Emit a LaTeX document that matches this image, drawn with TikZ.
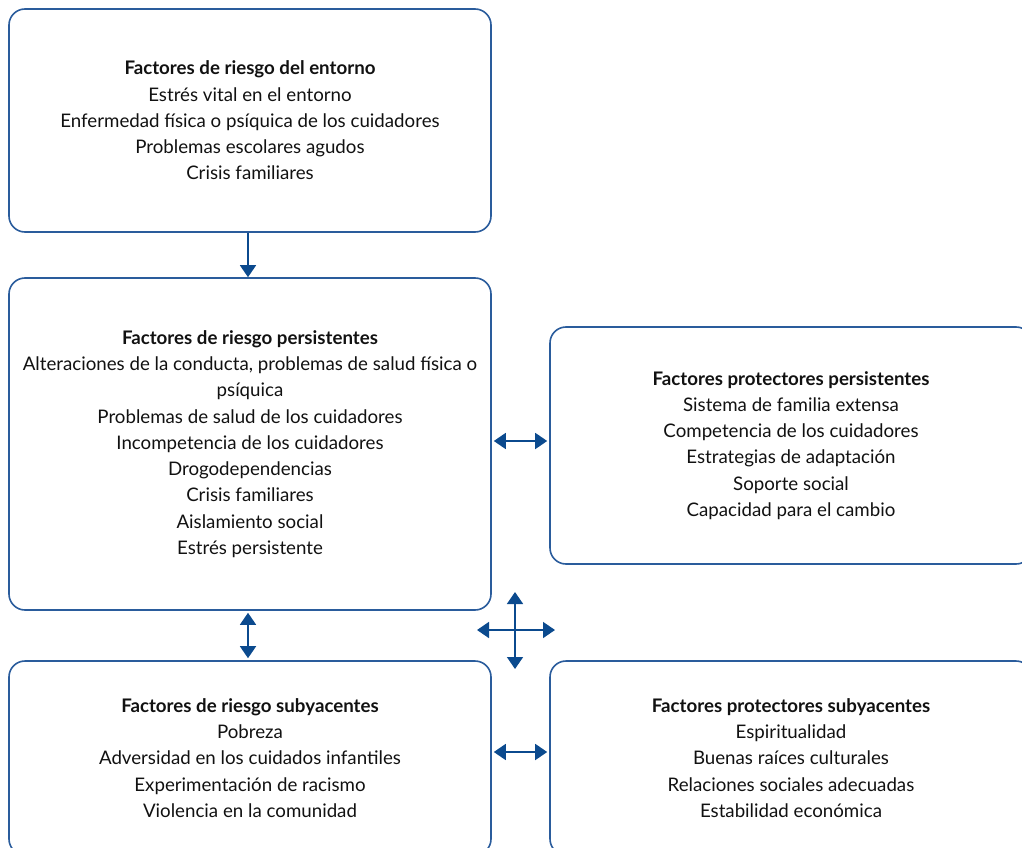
\documentclass[tikz,border=0pt]{standalone}
\usepackage{fontspec}
\setmainfont{Lato}
\usetikzlibrary{arrows.meta,calc}
\definecolor{boxblue}{HTML}{2A5C9C}
\definecolor{tipblue}{HTML}{0B4A8E}
\definecolor{txt}{HTML}{111111}
\tikzset{
  fbox/.style={draw=boxblue, line width=1.6pt, rounded corners=16pt, align=center,
    text=txt, font=\fontsize{18.7}{26.3}\selectfont, inner sep=0pt},
  conn/.style={draw=tipblue, line width=1.6pt, -{Triangle[length=12pt,width=16pt]}},
  dconn/.style={draw=tipblue, line width=1.6pt, {Triangle[length=12pt,width=16pt]}-{Triangle[length=12pt,width=16pt]}}
}
\begin{document}
\begin{tikzpicture}[x=1pt,y=-1pt]
\useasboundingbox (0,0) rectangle (1022,848);
\clip (0,0) rectangle (1022,848);
\node[fbox, minimum width=482pt, minimum height=223pt] (b1) at (250,120.5)
 {\textbf{Factores de riesgo del entorno}\\Estrés vital en el entorno\\Enfermedad física o psíquica de los cuidadores\\Problemas escolares agudos\\Crisis familiares};
\node[fbox, minimum width=482pt, minimum height=332pt] (b2) at (250,444)
 {\textbf{Factores de riesgo persistentes}\\Alteraciones de la conducta, problemas de salud física o\\psíquica\\Problemas de salud de los cuidadores\\Incompetencia de los cuidadores\\Drogodependencias\\Crisis familiares\\Aislamiento social\\Estrés persistente};
\node[fbox, minimum width=482pt, minimum height=237pt] (b3) at (791,445.5)
 {\textbf{Factores protectores persistentes}\\Sistema de familia extensa\\Competencia de los cuidadores\\Estrategias de adaptación\\Soporte social\\Capacidad para el cambio};
\node[fbox, minimum width=482pt, minimum height=194pt] (b4) at (250,758)
 {\textbf{Factores de riesgo subyacentes}\\Pobreza\\Adversidad en los cuidados infantiles\\Experimentación de racismo\\Violencia en la comunidad};
\node[fbox, minimum width=482pt, minimum height=194pt] (b5) at (791,758)
 {\textbf{Factores protectores subyacentes}\\Espiritualidad\\Buenas raíces culturales\\Relaciones sociales adecuadas\\Estabilidad económica};
% connectors
\draw[conn] (b1.south -| 248,0) -- (b2.north -| 248,0);
\draw[dconn] ([xshift=2pt,yshift=3pt]b2.east) -- ([xshift=-2pt,yshift=3pt]b2.east -| b3.west);
\draw[dconn] ([yshift=-2pt]b2.south -| 248,0) -- ([yshift=2pt]b4.north -| 248,0);
\draw[dconn] ([xshift=2pt,yshift=6pt]b4.east) -- ([xshift=-2pt,yshift=6pt]b4.east -| b5.west);
\coordinate (cx) at (515,630);
\coordinate (cl) at (477,630);
\coordinate (cr) at (555,630);
\coordinate (ct) at (515,592);
\coordinate (cb) at (515,669);
\draw[dconn] (cl) -- (cr);
\draw[dconn] (ct) -- (cb);
\end{tikzpicture}
\end{document}
